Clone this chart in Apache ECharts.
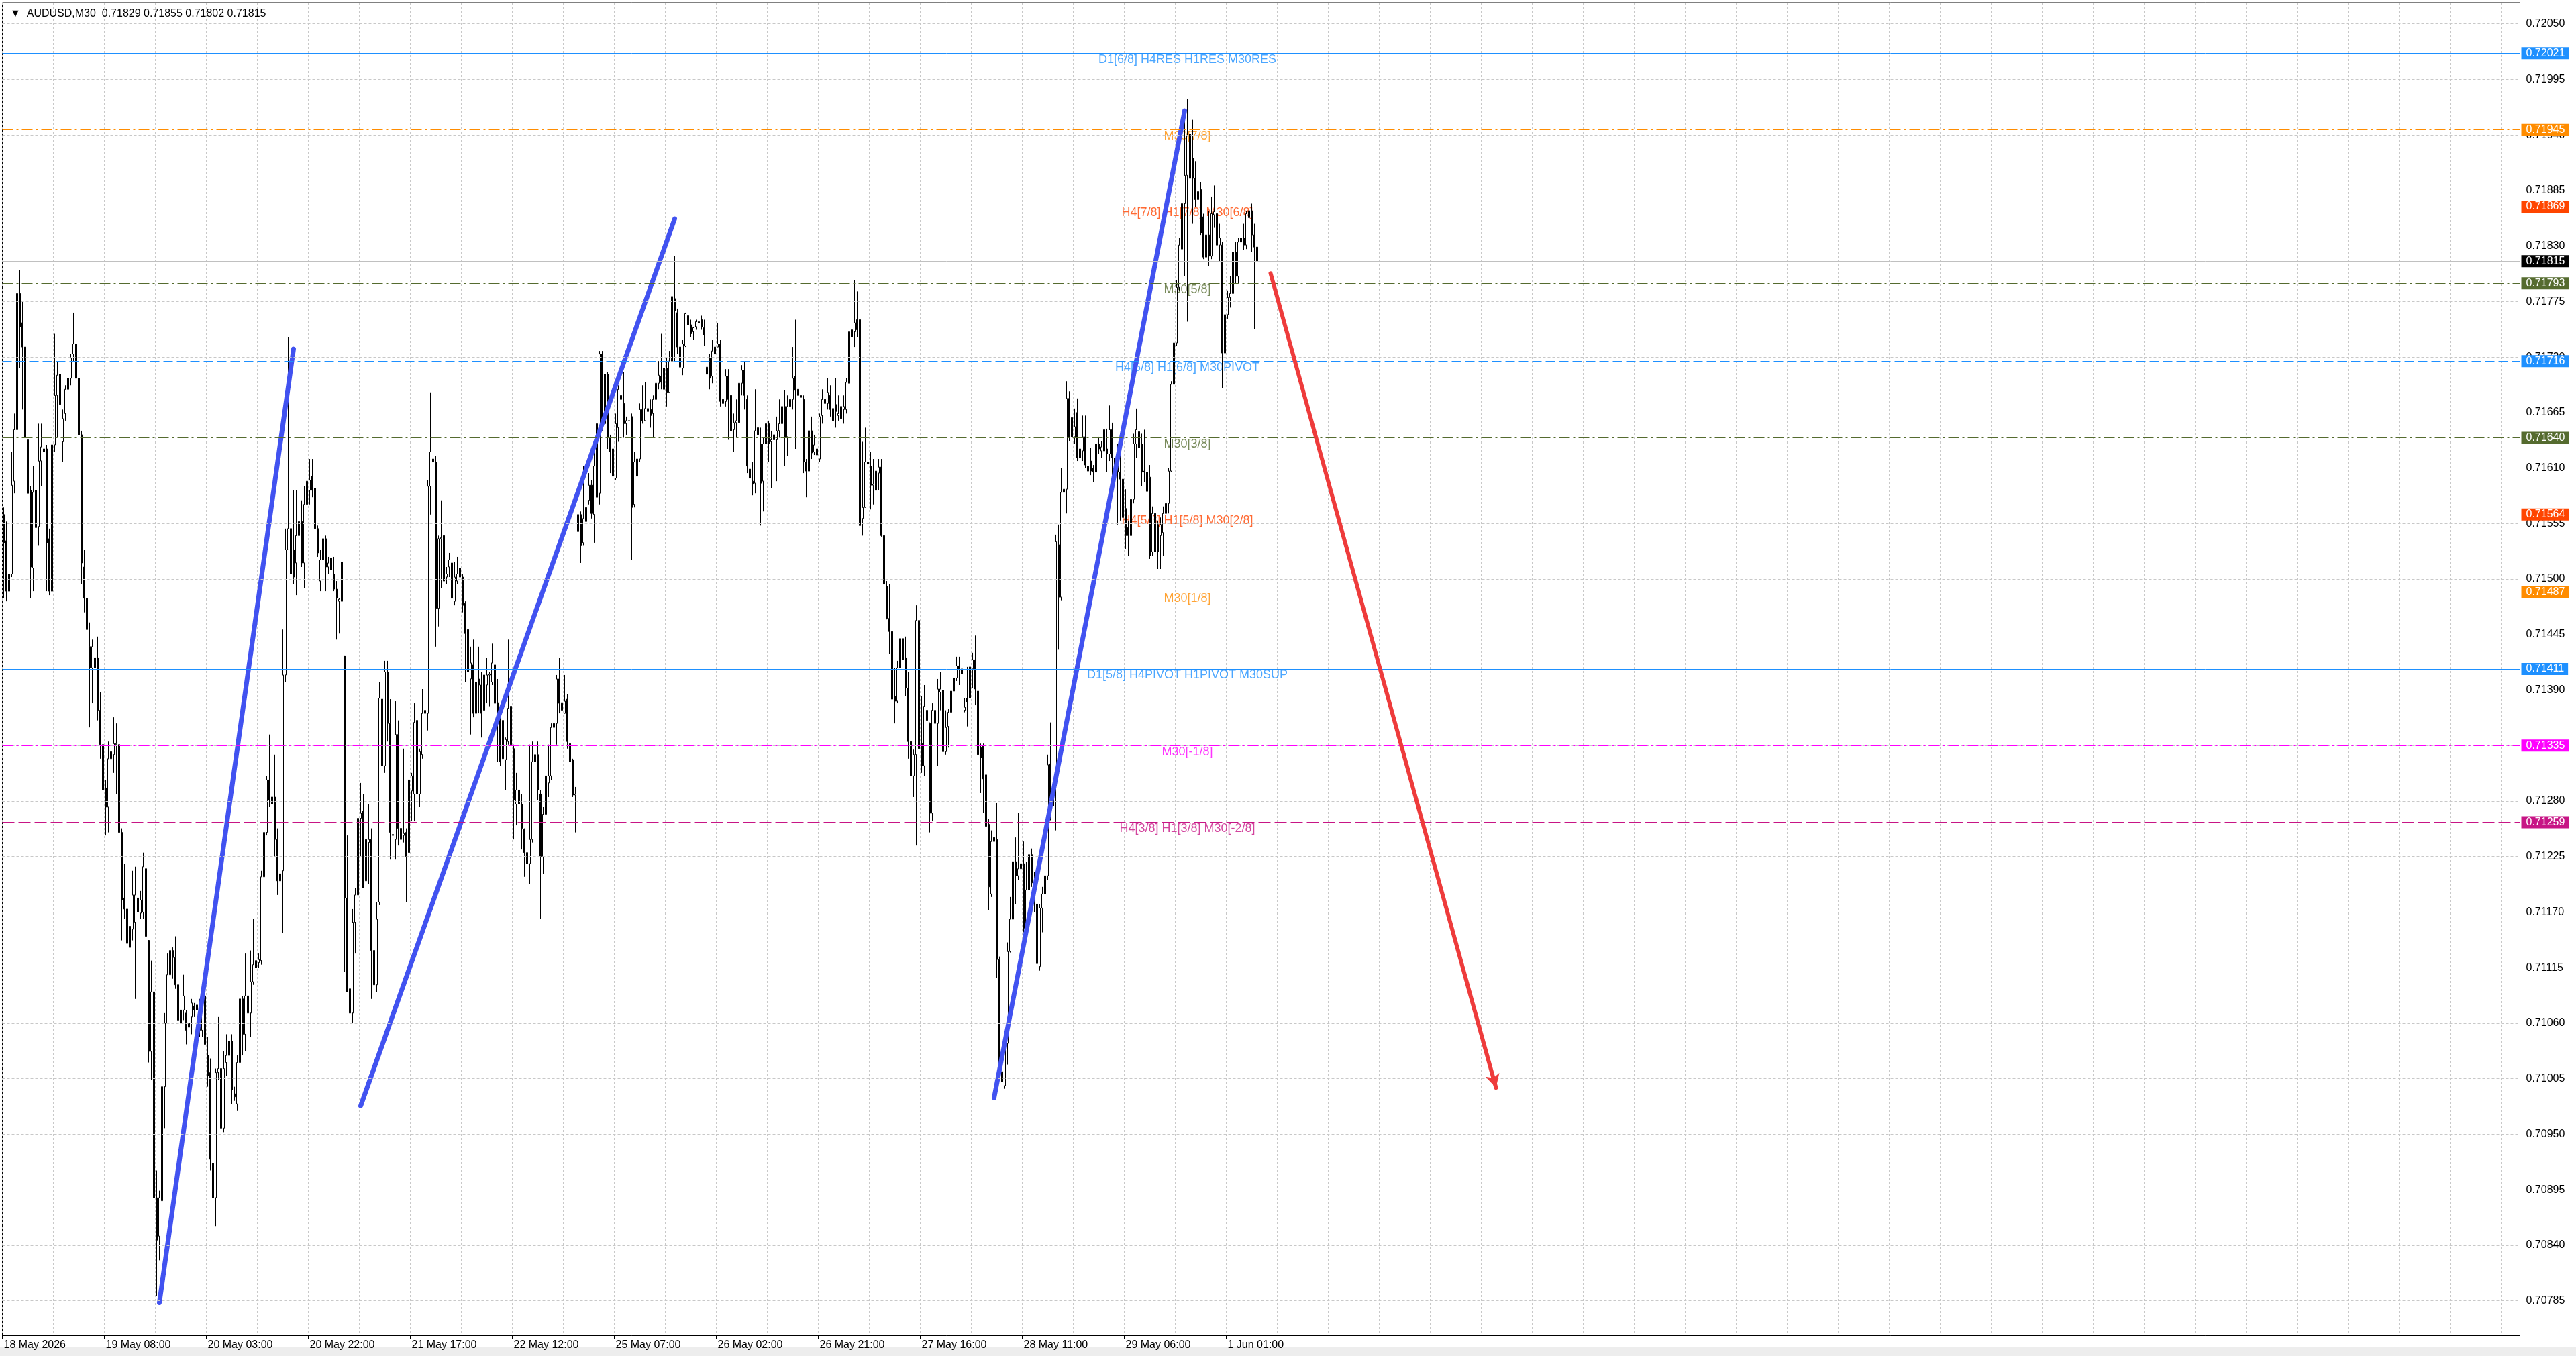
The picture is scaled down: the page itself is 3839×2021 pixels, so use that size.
<!DOCTYPE html>
<html>
<head>
<meta charset="utf-8">
<script src="https://cdn.jsdelivr.net/npm/echarts@6/dist/echarts.min.js"></script>
<style>
html,body{margin:0;padding:0;background:#ffffff;}
#chart{width:3839px;height:2021px;}
</style>
</head>
<body>
<div id="chart"></div>
<script>
// ---------------- DATA ----------------
const symbolName = 'AUDUSD,M30';
// M30 candles, one row per bar: [open, close, low, high] in points (1e-5)
const ohlcPts = [
[71564,71536,71481,71571],[71538,71488,71478,71557],[71488,71505,71457,71522],[71505,71593,71502,71626],[71597,71648,71585,71664],
[71648,71783,71647,71844],[71783,71750,71709,71806],[71754,71730,71668,71775],[71730,71640,71585,71737],[71638,71585,71564,71640],
[71588,71512,71481,71592],[71511,71586,71488,71612],[71588,71551,71529,71657],[71552,71617,71533,71654],[71617,71631,71592,71654],
[71629,71626,71619,71643],[71629,71536,71488,71633],[71540,71488,71484,71550],[71488,71633,71478,71747],[71633,71682,71626,71743],
[71682,71702,71640,71716],[71703,71673,71668,71709],[71636,71659,71616,71668],[71664,71688,71657,71692],[71688,71699,71685,71723],
[71699,71719,71692,71723],[71723,71733,71716,71764],[71733,71699,71699,71743],[71699,71643,71609,71719],[71643,71516,71495,71647],
[71512,71481,71467,71529],[71481,71450,71384,71522],[71433,71412,71353,71457],[71412,71433,71377,71440],[71412,71422,71405,71440],
[71422,71370,71360,71443],[71370,71336,71322,71388],[71336,71291,71267,71339],[71293,71274,71246,71301],[71274,71322,71249,71339],
[71322,71329,71301,71363],[71326,71337,71308,71363],[71336,71337,71287,71357],[71336,71249,71249,71360],[71249,71182,71142,71253],
[71184,71173,71163,71218],[71173,71139,71098,71173],[71156,71135,71091,71156],[71153,71187,71142,71211],[71160,71187,71084,71215],
[71184,71170,71142,71205],[71169,71182,71163,71191],[71170,71215,71163,71229],[71213,71146,71142,71218],[71142,71032,71021,71142],
[71032,71091,71004,71122],[71091,70887,70838,71118],[70887,70845,70790,70914],[70849,70887,70825,70894],[70884,70997,70873,71011],
[70997,71060,70956,71070],[71060,71108,71060,71129],[71108,71132,71108,71163],[71132,71125,71104,71135],[71125,71098,71094,71146],
[71098,71063,71056,71122],[71073,71060,71053,71098],[71073,71087,71063,71108],[71070,71053,71039,71073],[71056,71060,71049,71066],
[71066,71080,71049,71084],[71077,71073,71066,71080],[71073,71078,71066,71087],[71078,71053,71046,71084],[71053,71087,71046,71094],
[71087,71039,71032,71129],[71028,71008,70997,71046],[71011,70925,70914,71025],[70921,70887,70887,70956],[70887,71011,70859,71015],
[71011,71015,71004,71066],[71015,70956,70908,71018],[70956,71015,70952,71032],[71021,71028,71008,71049],[71028,71042,71025,71091],
[71042,70994,70980,71049],[70990,70987,70983,70997],[70980,71021,70973,71028],[71021,71084,71018,71122],[71084,71049,71028,71087],
[71049,71087,71032,71129],[71070,71087,71049,71104],[71070,71101,71046,71132],[71101,71118,71098,71163],[71115,71122,71087,71153],
[71120,71123,71115,71129],[71122,71205,71118,71211],[71205,71249,71201,71270],[71249,71301,71246,71305],[71301,71281,71274,71346],
[71277,71284,71260,71308],[71284,71242,71225,71326],[71242,71201,71187,71253],[71208,71201,71184,71211],[71211,71405,71149,71450],
[71405,71529,71398,71550],[71529,71550,71529,71740],[71550,71505,71495,71647],[71529,71502,71495,71588],[71516,71543,71484,71588],
[71543,71557,71529,71588],[71557,71516,71512,71578],[71516,71574,71491,71592],[71574,71597,71574,71616],[71588,71598,71574,71619],
[71602,71588,71581,71619],[71590,71550,71547,71592],[71550,71526,71522,71553],[71498,71519,71488,71529],[71519,71540,71512,71557],
[71540,71512,71488,71543],[71512,71516,71505,71522],[71521,71509,71488,71524],[71505,71490,71488,71522],[71490,71481,71440,71498],
[71478,71480,71446,71481],[71478,71517,71467,71564],[71424,71184,71111,71424],[71184,71091,71091,71246],[71094,71070,70990,71135],
[71070,71160,71060,71173],[71160,71187,71129,71194],[71187,71263,71184,71267],[71263,71268,71225,71298],[71270,71194,71194,71287],
[71201,71242,71163,71253],[71239,71242,71198,71277],[71242,71132,71084,71253],[71132,71098,71084,71135],[71098,71163,71091,71180],
[71180,71382,71177,71398],[71381,71315,71305,71412],[71315,71408,71308,71419],[71408,71357,71339,71419],[71357,71249,71222,71381],
[71246,71247,71173,71281],[71242,71346,71222,71379],[71346,71253,71236,71360],[71253,71242,71222,71267],[71246,71248,71239,71332],
[71249,71225,71180,71253],[71229,71301,71160,71339],[71290,71305,71260,71308],[71287,71358,71260,71377],[71360,71287,71229,71367],
[71287,71329,71274,71332],[71326,71367,71322,71391],[71367,71370,71329,71377],[71367,71592,71350,71598],[71592,71626,71564,71685],
[71619,71616,71560,71668],[71616,71471,71433,71622],[71471,71540,71453,71543],[71540,71541,71491,71578],[71543,71498,71484,71547],
[71502,71505,71495,71512],[71512,71519,71502,71526],[71516,71481,71464,71524],[71478,71502,71474,71517],[71498,71505,71495,71522],
[71511,71502,71495,71519],[71502,71474,71467,71505],[71476,71446,71398,71478],[71450,71408,71401,71453],[71401,71417,71346,71433],
[71415,71367,71363,71440],[71398,71367,71363,71419],[71401,71395,71367,71433],[71395,71367,71343,71408],[71370,71405,71367,71412],
[71395,71405,71377,71422],[71405,71406,71374,71408],[71398,71417,71395,71436],[71415,71377,71374,71460],[71377,71357,71319,71401],
[71363,71319,71315,71370],[71360,71322,71274,71363],[71321,71341,71291,71343],[71339,71372,71336,71440],[71374,71336,71329,71391],
[71332,71281,71242,71336],[71277,71291,71256,71308],[71291,71277,71274,71322],[71277,71253,71232,71287],[71252,71229,71205,71253],
[71229,71218,71194,71249],[71218,71242,71198,71336],[71242,71319,71239,71339],[71319,71326,71312,71426],[71326,71291,71281,71339],
[71287,71225,71163,71291],[71225,71267,71208,71274],[71267,71305,71263,71322],[71298,71305,71284,71336],[71305,71353,71301,71357],
[71353,71357,71322,71370],[71357,71401,71336,71405],[71401,71377,71367,71422],[71370,71377,71339,71395],[71367,71379,71367,71405],
[71381,71339,71332,71386],[71337,71319,71308,71339],[71321,71286,71284,71322],[71286,71287,71249,71294],[71547,71564,71543,71567],
[71564,71533,71516,71567],[71536,71560,71533,71612],[71557,71571,71533,71598],[71578,71593,71574,71605],[71593,71565,71560,71598],
[71564,71612,71536,71629],[71581,71654,71564,71654],[71585,71723,71574,71726],[71723,71654,71647,71726],[71654,71703,71647,71716],
[71703,71640,71629,71705],[71640,71626,71605,71643],[71629,71602,71595,71633],[71600,71654,71598,71664],[71650,71688,71636,71692],
[71678,71682,71643,71709],[71674,71654,71640,71705],[71654,71657,71643,71661],[71657,71657,71640,71678],[71661,71571,71519,71664],
[71574,71616,71571,71626],[71602,71619,71598,71629],[71619,71668,71616,71674],[71668,71657,71654,71692],[71657,71669,71657,71695],
[71666,71669,71661,71692],[71668,71662,71650,71678],[71664,71678,71640,71682],[71678,71694,71674,71747],[71694,71702,71688,71716],
[71701,71695,71688,71743],[71688,71709,71685,71726],[71709,71685,71671,71719],[71685,71716,71685,71726],[71716,71780,71709,71786],
[71778,71766,71716,71820],[71764,71730,71723,71768],[71730,71710,71699,71733],[71709,71733,71702,71737],[71731,71763,71730,71764],
[71761,71752,71740,71766],[71752,71743,71740,71757],[71745,71749,71737,71750],[71750,71755,71747,71757],[71754,71755,71750,71758],
[71757,71750,71747,71761],[71749,71742,71731,71757],[71703,71710,71702,71723],[71719,71699,71688,71723],[71701,71726,71694,71737],
[71723,71730,71705,71740],[71730,71733,71730,71754],[71733,71676,71671,71737],[71678,71674,71636,71696],[71676,71701,71671,71708],
[71701,71678,71638,71708],[71682,71647,71614,71688],[71648,71655,71626,71664],[71655,71657,71640,71678],[71655,71694,71654,71723],
[71694,71707,71682,71712],[71707,71682,71668,71716],[71678,71612,71605,71682],[71609,71600,71555,71614],[71597,71594,71583,71616],
[71595,71647,71585,71688],[71643,71650,71626,71682],[71634,71595,71553,71650],[71597,71634,71567,71640],[71634,71654,71616,71671],
[71654,71634,71616,71657],[71636,71638,71590,71647],[71643,71638,71621,71654],[71638,71647,71597,71661],[71647,71654,71640,71678],
[71654,71671,71643,71688],[71671,71640,71612,71687],[71641,71671,71622,71682],[71671,71678,71650,71688],[71678,71699,71668,71730],
[71701,71687,71629,71757],[71688,71682,71669,71737],[71680,71682,71674,71719],[71678,71616,71605,71682],[71616,71607,71581,71619],
[71607,71647,71598,71668],[71647,71625,71619,71661],[71626,71633,71623,71643],[71629,71623,71605,71647],[71619,71661,71616,71664],
[71662,71678,71654,71688],[71678,71674,71661,71692],[71674,71685,71668,71699],[71682,71668,71661,71692],[71669,71657,71654,71678],
[71673,71666,71650,71699],[71662,71664,71657,71682],[71671,71659,71654,71688],[71668,71671,71654,71682],[71668,71695,71664,71699],
[71694,71745,71688,71749],[71740,71747,71682,71750],[71745,71754,71730,71796],[71757,71747,71740,71785],[71757,71553,71516,71757],
[71560,71571,71543,71636],[71571,71616,71571,71650],[71614,71616,71588,71669],[71612,71593,71569,71626],[71593,71594,71574,71619],
[71588,71607,71585,71636],[71605,71611,71588,71619],[71611,71543,71542,71619],[71543,71495,71491,71558],[71493,71461,71460,71498],
[71461,71448,71426,71495],[71448,71381,71374,71457],[71384,71379,71357,71412],[71379,71412,71377,71419],[71412,71441,71398,71457],
[71441,71420,71412,71455],[71422,71392,71384,71443],[71392,71339,71322,71408],[71339,71305,71301,71343],[71305,71326,71284,71331],
[71326,71459,71236,71474],[71459,71332,71329,71495],[71337,71315,71308,71384],[71315,71374,71305,71395],[71370,71360,71357,71417],
[71357,71268,71249,71358],[71268,71370,71260,71377],[71357,71370,71343,71381],[71357,71391,71315,71401],[71388,71391,71370,71408],
[71390,71329,71323,71398],[71329,71353,71326,71370],[71354,71368,71333,71371],[71368,71389,71364,71399],[71389,71402,71378,71420],
[71402,71414,71399,71423],[71414,71411,71395,71423],[71411,71406,71392,71420],[71370,71373,71368,71382],[71382,71378,71354,71413],
[71382,71413,71382,71423],[71411,71420,71392,71427],[71420,71391,71375,71444],[71389,71326,71316,71399],[71333,71323,71288,71337],
[71335,71302,71268,71337],[71306,71255,71254,71326],[71257,71195,71172,71262],[71188,71240,71185,71251],[71240,71244,71195,71251],
[71242,71123,71105,71278],[71123,71012,71005,71126],[71012,71002,70971,71026],[70998,71040,70995,71050],[71040,71131,71019,71140],
[71131,71163,71130,71185],[71163,71220,71161,71257],[71220,71206,71178,71244],[71206,71213,71202,71268],[71213,71218,71178,71237],
[71218,71154,71150,71240],[71154,71192,71150,71220],[71192,71227,71188,71244],[71227,71199,71195,71233],[71199,71178,71170,71210],
[71178,71119,71081,71199],[71116,71174,71112,71178],[71174,71188,71150,71195],[71188,71206,71178,71213],[71206,71316,71202,71326],
[71317,71275,71261,71358],[71275,71295,71251,71302],[71295,71537,71251,71544],[71534,71482,71430,71554],[71482,71586,71479,71610],
[71586,71589,71579,71613],[71589,71679,71565,71696],[71679,71641,71637,71686],[71660,71641,71637,71679],[71641,71651,71634,71669],
[71665,71620,71617,71679],[71620,71629,71603,71644],[71627,71641,71617,71662],[71641,71613,71610,71662],[71607,71612,71603,71624],
[71617,71607,71603,71630],[71610,71606,71596,71613],[71606,71634,71592,71644],[71634,71629,71624,71641],[71627,71631,71620,71637],
[71627,71648,71617,71651],[71629,71624,71606,71649],[71624,71648,71617,71672],[71648,71620,71603,71655],[71620,71606,71575,71648],
[71630,71606,71554,71634],[71606,71599,71558,71637],[71599,71561,71558,71634],[71570,71543,71530,71589],[71551,71543,71523,71558],
[71543,71579,71537,71586],[71579,71634,71575,71644],[71634,71648,71620,71669],[71646,71630,71627,71669],[71634,71606,71592,71644],
[71607,71606,71596,71648],[71606,71587,71579,71610],[71601,71523,71520,71613],[71527,71565,71523,71572],[71565,71527,71487,71568],
[71554,71527,71510,71558],[71543,71554,71510,71561],[71546,71565,71523,71572],[71565,71575,71544,71579],[71575,71607,71565,71610],
[71607,71693,71606,71696],[71693,71734,71689,71751],[71734,71789,71731,71796],[71789,71831,71786,71838],[71827,71872,71800,71903],
[71872,71900,71800,71959],[71900,71939,71755,71976],[71941,71897,71800,72004],[71917,71897,71852,71955],[71897,71876,71869,71914],
[71876,71884,71848,71914],[71886,71843,71841,71893],[71859,71819,71817,71862],[71819,71841,71814,71852],[71841,71820,71810,71865],
[71820,71862,71817,71879],[71861,71864,71848,71890],[71862,71831,71827,71865],[71831,71838,71814,71852],[71831,71724,71689,71834],
[71724,71762,71689,71807],[71762,71779,71758,71786],[71779,71783,71769,71800],[71783,71824,71779,71831],[71824,71800,71793,71834],
[71800,71834,71793,71838],[71834,71838,71810,71845],[71838,71831,71826,71852],[71831,71862,71827,71865],[71858,71865,71855,71872],
[71865,71841,71824,71872],[71841,71829,71748,71852],[71829,71815,71802,71855]
];
const futureBars = 470;                 // empty bars kept on the right (chart shift)
const timeLabels = ['18 May 2026','19 May 08:00','20 May 03:00','20 May 22:00','21 May 17:00','22 May 12:00',
  '25 May 07:00','26 May 02:00','26 May 21:00','27 May 16:00','28 May 11:00','29 May 06:00','1 Jun 01:00'];
const labelEvery = 38;                  // bars between time labels
const gridEvery = 19;                   // bars between vertical grid lines
const priceTicks = [0.72050,0.71995,0.71940,0.71885,0.71830,0.71775,0.71720,0.71665,0.71610,0.71555,0.71500,
  0.71445,0.71390,0.71335,0.71280,0.71225,0.71170,0.71115,0.71060,0.71005,0.70950,0.70895,0.70840,0.70785];
const yRange = [0.707508, 0.720711];
const levelPrices = [0.72021,0.71945,0.71869,0.71793,0.71716,0.71640,0.71564,0.71487,0.71411,0.71335,0.71259];
const levelNames = ['D1[6/8] H4RES H1RES M30RES','M30[7/8]','H4[7/8] H1[7/8] M30[6/8]','M30[5/8]',
  'H4[6/8] H1[6/8] M30PIVOT','M30[3/8]','H4[5/8] H1[5/8] M30[2/8]','M30[1/8]',
  'D1[5/8] H4PIVOT H1PIVOT M30SUP','M30[-1/8]','H4[3/8] H1[3/8] M30[-2/8]'];
const levelKinds = ['d1','m30o','h4r','m30g','h4b','m30g','h4r','m30o','d1','m30m','h4v'];
const levelLabelBar = 441;
const currentPrice = 0.71815;
const trendLines = [
  [[58, 0.70783], [108, 0.71728]],
  [[133, 0.70978], [250, 0.71857]],
  [[369, 0.70986], [440, 0.71964]]
];
const projection = [[472, 0.71803], [556, 0.70996]];

// ---------------- STYLES ----------------
const FONT = 'Liberation Sans, Arial, sans-serif';
const kindStyle = {
  d1:   {color:'#1E90FF', type:'solid'},
  h4b:  {color:'#1E90FF', type:[14,6]},
  h4r:  {color:'#FF4500', type:[18,6]},
  h4v:  {color:'#C71585', type:[18,6]},
  m30o: {color:'#FF8C00', type:[16,5,3,5]},
  m30g: {color:'#556B2F', type:[16,5,3,5]},
  m30m: {color:'#FF00FF', type:[16,5,3,5]}
};

// ---------------- BUILD ----------------
const candles = ohlcPts.map(r => r.map(v => v / 100000));
const nBars = ohlcPts.length + futureBars;
const categories = Array.from({length: nBars}, (_, i) => String(i));
const last = ohlcPts[ohlcPts.length - 1];
const headerVals = [last[0], last[3], last[2], last[1]].map(v => (v / 100000).toFixed(5)).join(' ');
const isLabelBar = i => i % labelEvery === 0 && (i / labelEvery) < timeLabels.length;

const chart = echarts.init(document.getElementById('chart'), null, {renderer: 'canvas'});

const levelLineData = levelPrices.map((p, i) => {
  const st = kindStyle[levelKinds[i]];
  return {
    yAxis: p,
    lineStyle: {color: st.color, type: st.type, width: 1},
    label: {backgroundColor: st.color}
  };
});
levelLineData.push({
  yAxis: currentPrice,
  lineStyle: {color: '#C0C0C0', type: 'solid', width: 1},
  label: {backgroundColor: '#000000'}
});

const series = [
  {
    name: 'ticks', type: 'line', data: [], z: 0, silent: true,
    markLine: {
      silent: true, symbol: 'none', animation: false, precision: 5,
      lineStyle: {color: '#C8C8C8', type: [4, 3], width: 1},
      label: {show: true, position: 'end', distance: 9, color: '#000', fontSize: 16, fontFamily: FONT,
        formatter: p => Number(p.value).toFixed(5)},
      emphasis: {disabled: true},
      data: priceTicks.map(v => ({yAxis: v}))
    }
  },
  {
    name: 'levels', type: 'line', data: [], z: 1, silent: true,
    markLine: {
      silent: true, symbol: 'none', animation: false, precision: 5,
      label: {show: true, position: 'end', distance: 2, color: '#fff', fontSize: 16, fontFamily: FONT,
        padding: [1, 6, 1, 7], formatter: p => Number(p.value).toFixed(5)},
      emphasis: {disabled: true},
      data: levelLineData
    }
  },
  {
    name: 'levelText', type: 'scatter', z: 1, silent: true,
    symbolSize: 1, itemStyle: {color: 'rgba(0,0,0,0)'},
    data: levelPrices.map((p, i) => ({
      value: [levelLabelBar, p],
      label: {color: kindStyle[levelKinds[i]].color}
    })),
    label: {show: true, position: 'bottom', distance: 0, fontSize: 18, fontFamily: FONT,
      formatter: p => levelNames[p.dataIndex]}
  },
  {
    name: symbolName, type: 'candlestick', z: 2, data: candles, barWidth: 2,
    itemStyle: {color: '#ffffff', color0: '#000000', borderColor: '#000000', borderColor0: '#000000',
      borderColorDoji: '#000000', borderWidth: 1},
    emphasis: {disabled: true}
  }
];
trendLines.forEach(seg => {
  series.push({
    type: 'line', z: 3, data: seg, symbol: 'none', silent: true,
    lineStyle: {color: '#4152F0', width: 7, cap: 'round'}
  });
});
series.push({
  type: 'line', z: 3, data: [], silent: true,
  markLine: {
    silent: true, animation: false, precision: 5,
    symbol: ['none', 'arrow'], symbolSize: [16, 20],
    lineStyle: {color: '#EE3B3B', width: 6, type: 'solid', cap: 'round'},
    label: {show: false},
    emphasis: {disabled: true},
    data: [[{coord: projection[0]}, {coord: projection[1]}]]
  }
});

chart.setOption({
  animation: false,
  backgroundColor: '#ffffff',
  title: {
    text: '\u25BC  ' + symbolName + '  ' + headerVals,
    left: 10, top: 8,
    textStyle: {fontSize: 16, fontWeight: 'normal', color: '#000', fontFamily: FONT}
  },
  grid: {left: 3.5, right: 83.5, top: 4, bottom: 31, show: true, borderColor: '#000', borderWidth: 1,
    backgroundColor: 'transparent'},
  xAxis: {
    type: 'category', data: categories, boundaryGap: true,
    axisLine: {show: true, lineStyle: {color: '#000', width: 1}},
    axisTick: {show: true, interval: i => isLabelBar(i), length: 5, lineStyle: {color: '#000'}},
    axisLabel: {
      show: true, interval: i => isLabelBar(i), align: 'left', margin: 7,
      color: '#000', fontSize: 16, fontFamily: FONT,
      formatter: (v, i) => isLabelBar(i) ? timeLabels[i / labelEvery] : ''
    },
    splitLine: {show: true, interval: i => i % gridEvery === 0,
      lineStyle: {color: '#C8C8C8', type: [3, 3], width: 1}}
  },
  yAxis: {
    type: 'value', position: 'right', min: yRange[0], max: yRange[1], scale: true,
    axisLine: {show: true, lineStyle: {color: '#000', width: 1}},
    axisTick: {show: false}, axisLabel: {show: false}, splitLine: {show: false}
  },
  graphic: [
    {type: 'rect', left: 0, top: 2007, silent: true, shape: {width: 3839, height: 14}, style: {fill: '#EDEDED'}}
  ],
  series: series
});
</script>
</body>
</html>
